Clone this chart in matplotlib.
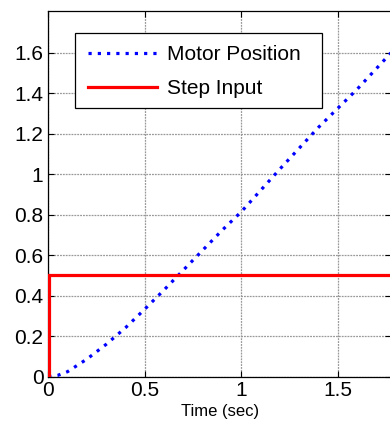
import matplotlib
matplotlib.use("Agg")
import matplotlib.pyplot as plt
from matplotlib.patches import Rectangle

# ---- data ----
t_motor = [0.0, 0.05, 0.1, 0.2, 0.3, 0.4, 0.5, 0.6, 0.7, 0.8, 0.9, 1.0,
           1.2, 1.4, 1.6, 1.8]
motor_pos = [0.0, 0.007, 0.025, 0.087, 0.160, 0.242, 0.334, 0.429, 0.527,
             0.625, 0.723, 0.815, 1.026, 1.232, 1.42, 1.625]
t_step = [0.0, 0.006, 0.006, 1.8]
step_val = [0.0, 0.0, 0.5, 0.5]
xticks = [0, 0.5, 1, 1.5]
xticklabels = ["0", "0.5", "1", "1.5"]
yticks = [0, 0.2, 0.4, 0.6, 0.8, 1.0, 1.2, 1.4, 1.6]
yticklabels = ["0", "0.2", "0.4", "0.6", "0.8", "1", "1.2", "1.4", "1.6"]

plt.rcParams['font.family'] = ['Liberation Sans', 'DejaVu Sans']

W, H = 390, 430
fig = plt.figure(figsize=(W / 100, H / 100), dpi=100)
left_px, right_px, top_px, bottom_px = 48.3, 391.0, 11.0, 376.7
ax = fig.add_axes([left_px / W, (H - bottom_px) / H,
                   (right_px - left_px) / W, (bottom_px - top_px) / H])

ax.plot(t_motor, motor_pos, color=(0, 0, 1), lw=2.3, linestyle=(0, (1, 1.9)),
        dash_capstyle='butt', label='Motor Position', zorder=3)
ax.plot(t_step, step_val, color=(1, 0, 0), lw=2.3, label='Step Input',
        zorder=3, solid_joinstyle='miter')

ax.set_xlim(0, 1.775)
ax.set_ylim(0, 1.806)
ax.set_xticks(xticks)
ax.set_xticklabels(xticklabels)
ax.set_yticks(yticks)
ax.set_yticklabels(yticklabels)

ax.grid(True, color=(0.6, 0.6, 0.6), linestyle=(0, (1.5, 0.8)), lw=0.9)
ax.tick_params(direction='in', length=4, width=0.8, labelsize=15,
               top=True, right=True, colors='black')
ax.tick_params(axis='x', pad=3)
ax.tick_params(axis='y', pad=3.5)
for s in ax.spines.values():
    s.set_linewidth(0.9)
    s.set_color('black')

ax.set_xlabel('Time (sec)', fontsize=12, labelpad=3)

# legend frame (drawn as a rectangle, pixel box 75..322 x 33..108)
fx0, fx1, fy0, fy1 = 75, 322, 33, 108
frame = Rectangle((fx0 / W, (H - fy1) / H), (fx1 - fx0) / W, (fy1 - fy0) / H,
                  transform=fig.transFigure, facecolor='white',
                  edgecolor='black', lw=0.9, zorder=4)
ax.add_artist(frame)

lx = (fx0 + 2 - left_px) / (right_px - left_px)
ly = (bottom_px - fy0 - 1) / (bottom_px - top_px)
leg = ax.legend(loc='upper left', bbox_to_anchor=(lx, ly), borderaxespad=0,
                fontsize=15, frameon=False, handlelength=3.3,
                handletextpad=0.45, borderpad=0.55, labelspacing=0.7)
leg.set_zorder(5)

fig.savefig('out.png', dpi=100)
